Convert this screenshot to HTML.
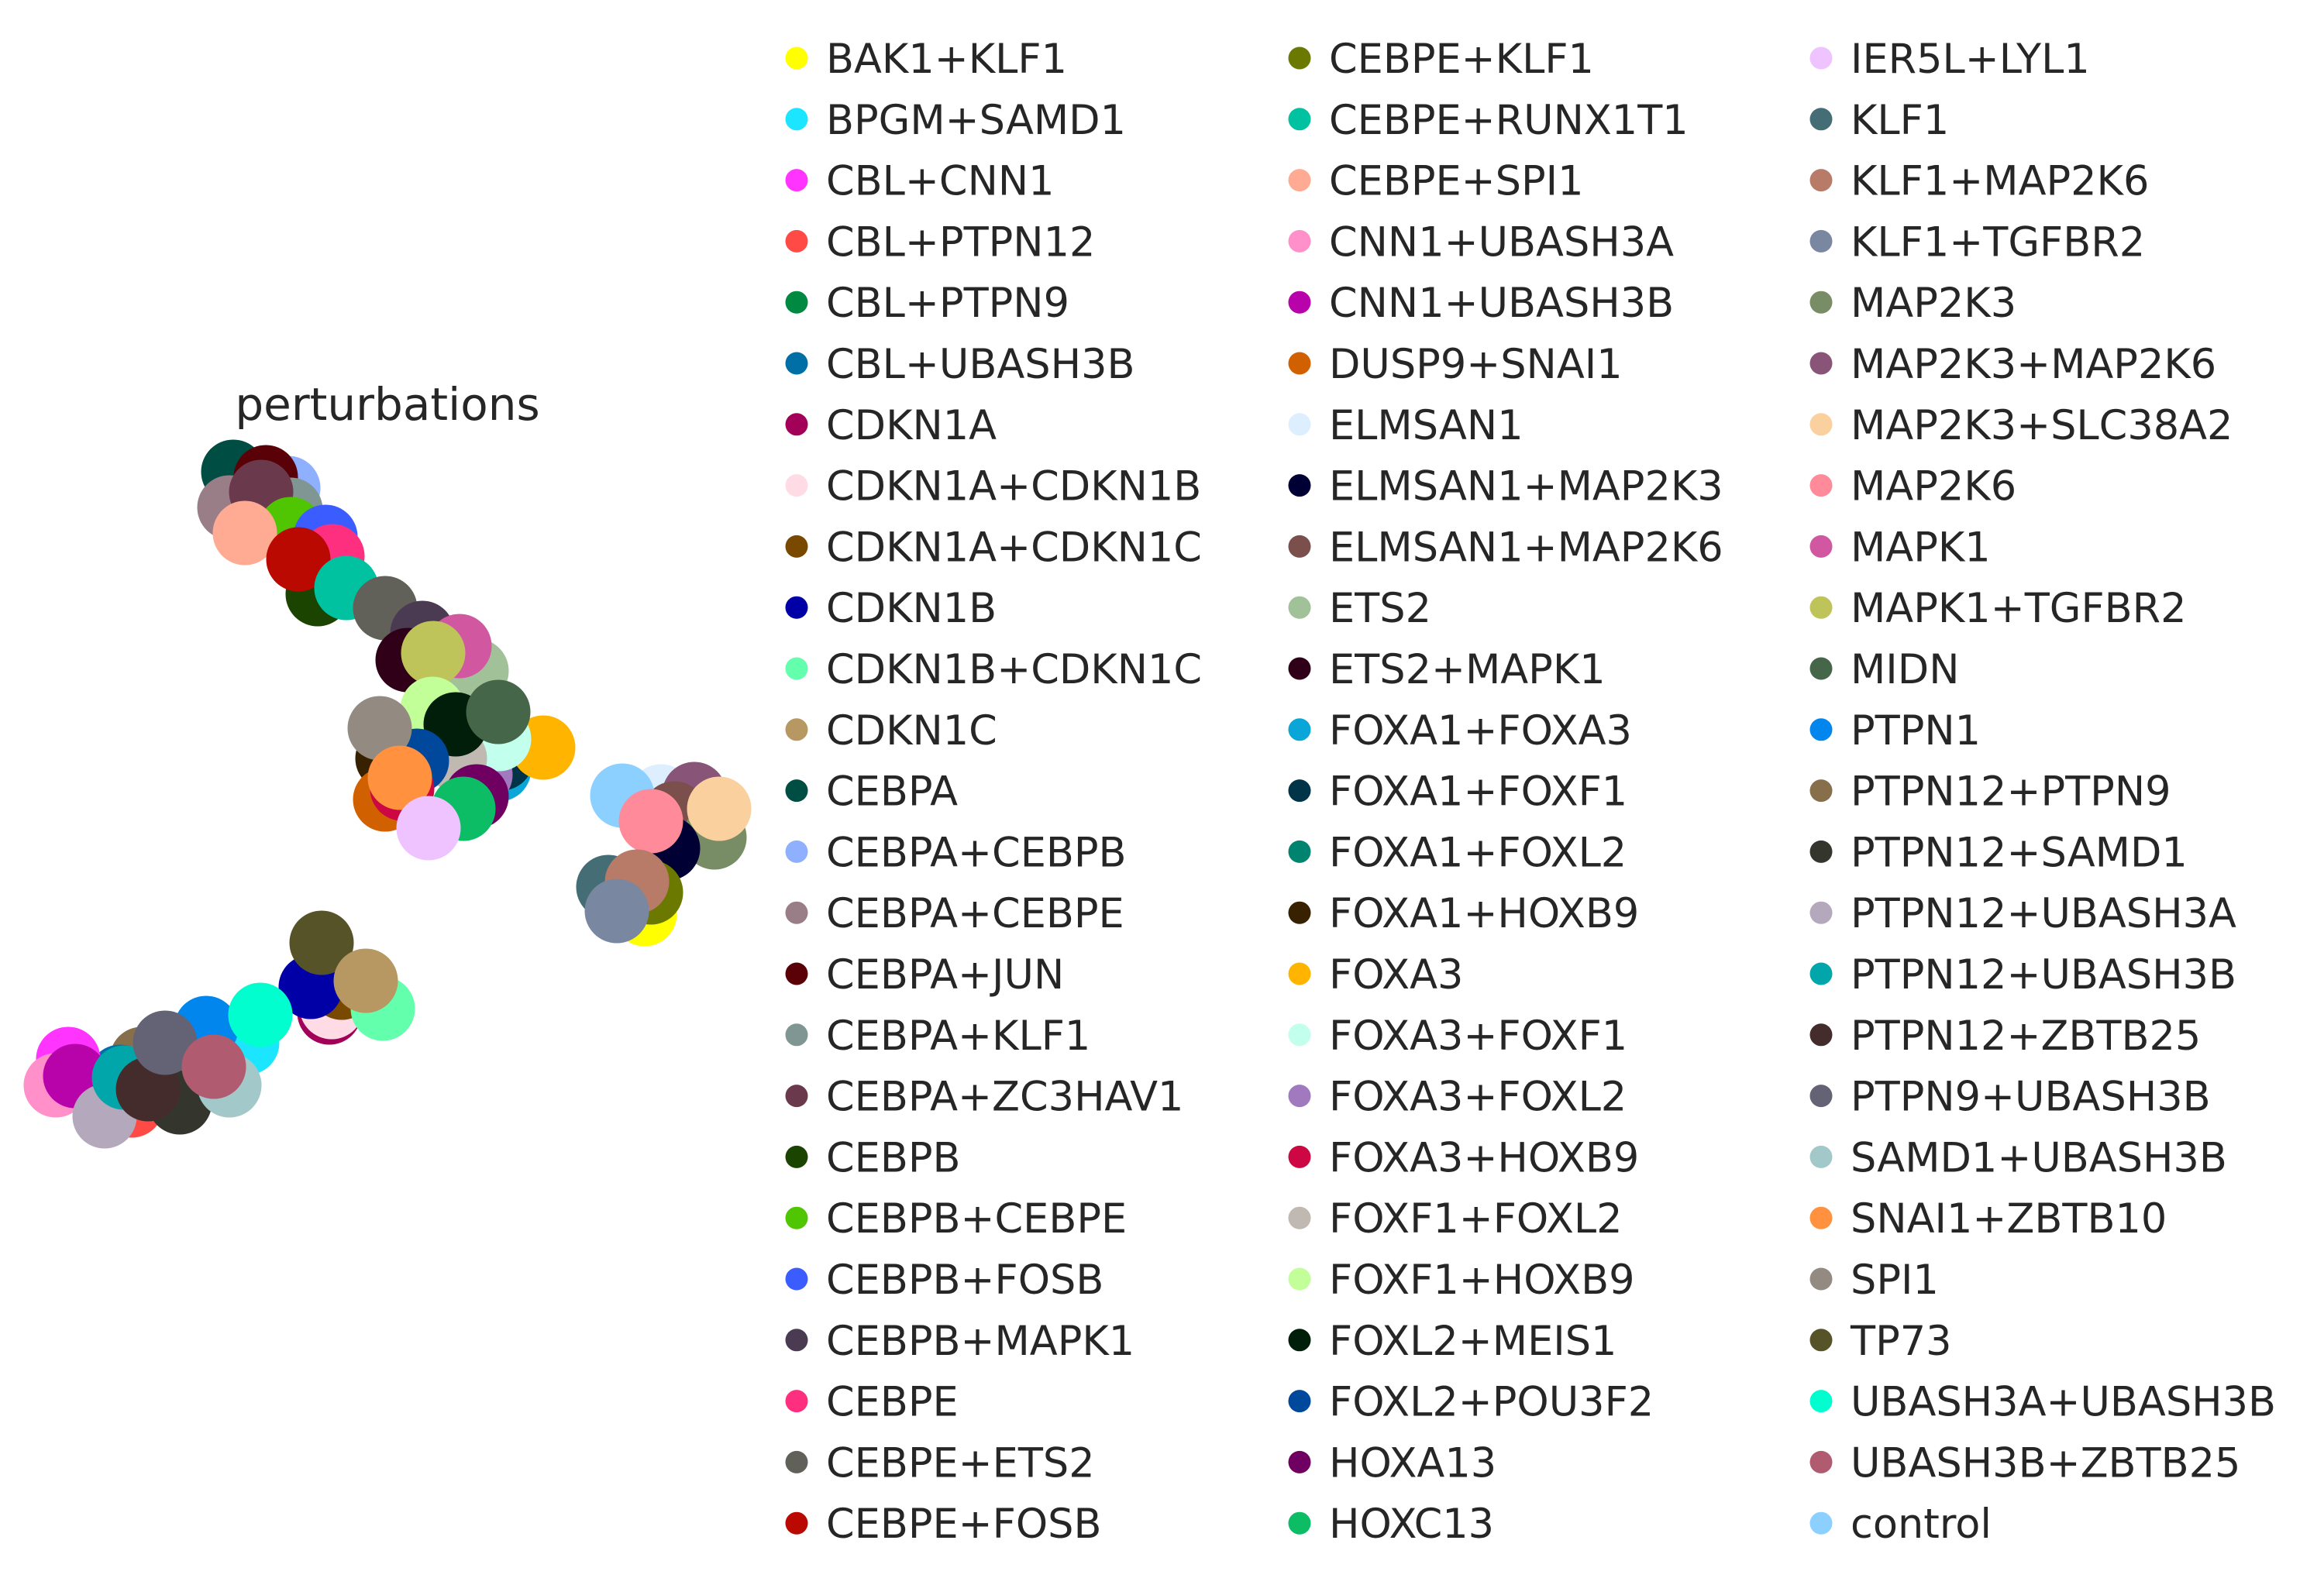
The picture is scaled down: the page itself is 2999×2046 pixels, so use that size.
<!DOCTYPE html>
<html><head><meta charset="utf-8"><style>
html,body{margin:0;padding:0;background:#fff;}
svg{display:block;}
text{font-family:"DejaVu Sans","Liberation Sans",sans-serif;fill:#262626;}
</style></head><body>
<svg id="chart" width="2999" height="2046" viewBox="0 0 2999 2046" xmlns="http://www.w3.org/2000/svg">
<text x="500" y="542" font-size="58" text-anchor="middle">perturbations</text>
<g id="points"></g>
<g id="legend"></g>
</svg>
<script>
const categories = ["BAK1+KLF1","BPGM+SAMD1","CBL+CNN1","CBL+PTPN12","CBL+PTPN9","CBL+UBASH3B","CDKN1A","CDKN1A+CDKN1B","CDKN1A+CDKN1C","CDKN1B","CDKN1B+CDKN1C","CDKN1C","CEBPA","CEBPA+CEBPB","CEBPA+CEBPE","CEBPA+JUN","CEBPA+KLF1","CEBPA+ZC3HAV1","CEBPB","CEBPB+CEBPE","CEBPB+FOSB","CEBPB+MAPK1","CEBPE","CEBPE+ETS2","CEBPE+FOSB","CEBPE+KLF1","CEBPE+RUNX1T1","CEBPE+SPI1","CNN1+UBASH3A","CNN1+UBASH3B","DUSP9+SNAI1","ELMSAN1","ELMSAN1+MAP2K3","ELMSAN1+MAP2K6","ETS2","ETS2+MAPK1","FOXA1+FOXA3","FOXA1+FOXF1","FOXA1+FOXL2","FOXA1+HOXB9","FOXA3","FOXA3+FOXF1","FOXA3+FOXL2","FOXA3+HOXB9","FOXF1+FOXL2","FOXF1+HOXB9","FOXL2+MEIS1","FOXL2+POU3F2","HOXA13","HOXC13","IER5L+LYL1","KLF1","KLF1+MAP2K6","KLF1+TGFBR2","MAP2K3","MAP2K3+MAP2K6","MAP2K3+SLC38A2","MAP2K6","MAPK1","MAPK1+TGFBR2","MIDN","PTPN1","PTPN12+PTPN9","PTPN12+SAMD1","PTPN12+UBASH3A","PTPN12+UBASH3B","PTPN12+ZBTB25","PTPN9+UBASH3B","SAMD1+UBASH3B","SNAI1+ZBTB10","SPI1","TP73","UBASH3A+UBASH3B","UBASH3B+ZBTB25","control"];
const palette = ["#FFFF00","#1CE6FF","#FF34FF","#FF4A46","#008941","#006FA6","#A30059","#FFDBE5","#7A4900","#0000A6","#63FFAC","#B79762","#004D43","#8FB0FF","#997D87","#5A0007","#809693","#6A3A4C","#1B4400","#4FC601","#3B5DFF","#4A3B53","#FF2F80","#61615A","#BA0900","#6B7900","#00C2A0","#FFAA92","#FF90C9","#B903AA","#D16100","#DDEFFF","#000035","#7B4F4B","#A1C299","#300018","#0AA6D8","#013349","#00846F","#372101","#FFB500","#C2FFED","#A079BF","#CC0744","#C0B9B2","#C2FF99","#001E09","#00489C","#6F0062","#0CBD66","#EEC3FF","#456D75","#B77B68","#7A87A1","#788D66","#885578","#FAD09E","#FF8A9A","#D157A0","#BEC459","#456648","#0086ED","#886F4C","#34362D","#B4A8BD","#00A6AA","#452C2C","#636375","#A3C8C9","#FF913F","#938A81","#575329","#00FECF","#B05B6F","#8CD0FF"];
// points in drawing order (embedding coords)
const pointCats = ["CEBPA","CEBPA+CEBPB","CEBPA+JUN","CEBPA+CEBPE","CEBPA+KLF1","CEBPA+ZC3HAV1","CEBPB+CEBPE","CEBPE+SPI1","CEBPB+FOSB","CEBPB","CEBPE","CEBPE+FOSB","CEBPE+RUNX1T1","CEBPE+ETS2","CEBPB+MAPK1","ETS2","MAPK1","ETS2+MAPK1","MAPK1+TGFBR2","FOXA1+FOXA3","FOXA1+FOXL2","FOXA1+FOXF1","FOXA3+FOXL2","FOXA3","FOXA3+FOXF1","FOXF1+HOXB9","FOXF1+FOXL2","FOXL2+MEIS1","MIDN","FOXA1+HOXB9","FOXL2+POU3F2","SPI1","HOXA13","DUSP9+SNAI1","FOXA3+HOXB9","SNAI1+ZBTB10","HOXC13","IER5L+LYL1","ELMSAN1","MAP2K3+MAP2K6","ELMSAN1+MAP2K6","MAP2K3","ELMSAN1+MAP2K3","control","MAP2K6","MAP2K3+SLC38A2","BAK1+KLF1","CEBPE+KLF1","KLF1","KLF1+MAP2K6","KLF1+TGFBR2","CDKN1A","CDKN1A+CDKN1B","CDKN1A+CDKN1C","CDKN1B+CDKN1C","CDKN1B","TP73","CDKN1C","BPGM+SAMD1","PTPN1","UBASH3A+UBASH3B","PTPN12+PTPN9","CBL+PTPN9","CBL+UBASH3B","CBL+CNN1","CNN1+UBASH3A","CNN1+UBASH3B","CBL+PTPN12","PTPN12+UBASH3A","PTPN12+SAMD1","SAMD1+UBASH3B","PTPN12+UBASH3B","PTPN12+ZBTB25","PTPN9+UBASH3B","UBASH3B+ZBTB25"];
const pointX = [30.1,37.2,34.3,29.6,37.5,33.7,37.5,31.6,42.0,41.0,42.9,38.5,44.7,49.7,54.5,61.5,59.3,52.6,55.9,64.4,63.5,64.7,62.0,70.1,64.4,55.8,58.7,58.8,64.3,50.0,53.8,49.0,61.5,49.7,51.9,51.6,59.8,55.3,85.3,89.6,87.0,92.2,86.2,80.3,84.0,92.8,83.2,84.0,78.5,82.2,79.6,42.5,42.8,44.1,49.4,40.1,41.5,47.2,31.9,26.6,33.6,18.3,15.0,15.5,8.8,7.2,9.7,17.0,13.5,23.2,29.6,16.0,19.1,21.3,27.6];
const pointY = [139.1,137.0,138.4,134.5,134.2,136.5,131.7,131.2,130.7,123.3,128.2,127.8,124.1,121.5,118.3,113.4,116.6,114.8,115.7,100.7,102.0,102.1,100.0,103.5,104.6,108.5,102.1,106.5,108.1,102.1,101.8,106.0,97.2,96.8,98.2,99.6,95.6,93.1,97.2,97.5,95.0,91.9,90.5,97.3,94.0,95.6,82.0,84.8,85.5,86.2,82.4,69.3,70.0,72.5,69.8,72.6,78.3,73.4,65.4,67.3,69.0,63.3,60.0,61.0,63.3,59.9,61.1,57.3,55.9,57.7,59.9,60.9,59.4,65.4,62.3];

const R = 41.5;
function sx(v){ return v*10; }
function sy(v){ return 2000 - v*10; }
const NS = "http://www.w3.org/2000/svg";
const colorOf = {};
categories.forEach((c,i)=>{ colorOf[c]=palette[i]; });

const gP = document.getElementById('points');
pointCats.forEach((c,i)=>{
  const el = document.createElementNS(NS,'circle');
  el.setAttribute('cx', sx(pointX[i]));
  el.setAttribute('cy', sy(pointY[i]));
  el.setAttribute('r', R);
  el.setAttribute('fill', colorOf[c]);
  
  
  gP.appendChild(el);
});

const gL = document.getElementById('legend');
const colX = [1028, 1677, 2350];
const row0 = 75, rowStep = 78.8;
categories.forEach((c,i)=>{
  const col = Math.floor(i/25), row = i%25;
  const g = document.createElementNS(NS,'g');
  
  
  const m = document.createElementNS(NS,'circle');
  m.setAttribute('cx', colX[col]);
  m.setAttribute('cy', row0 + row*rowStep);
  m.setAttribute('r', 14.5);
  m.setAttribute('fill', palette[i]);
  
  
  const t = document.createElementNS(NS,'text');
  t.setAttribute('x', colX[col] + 38);
  t.setAttribute('y', row0 + row*rowStep + 19);
  t.setAttribute('font-size', '52.5');
  t.textContent = c;
  
  
  g.appendChild(m); g.appendChild(t);
  gL.appendChild(g);
});
</script>
</body></html>
